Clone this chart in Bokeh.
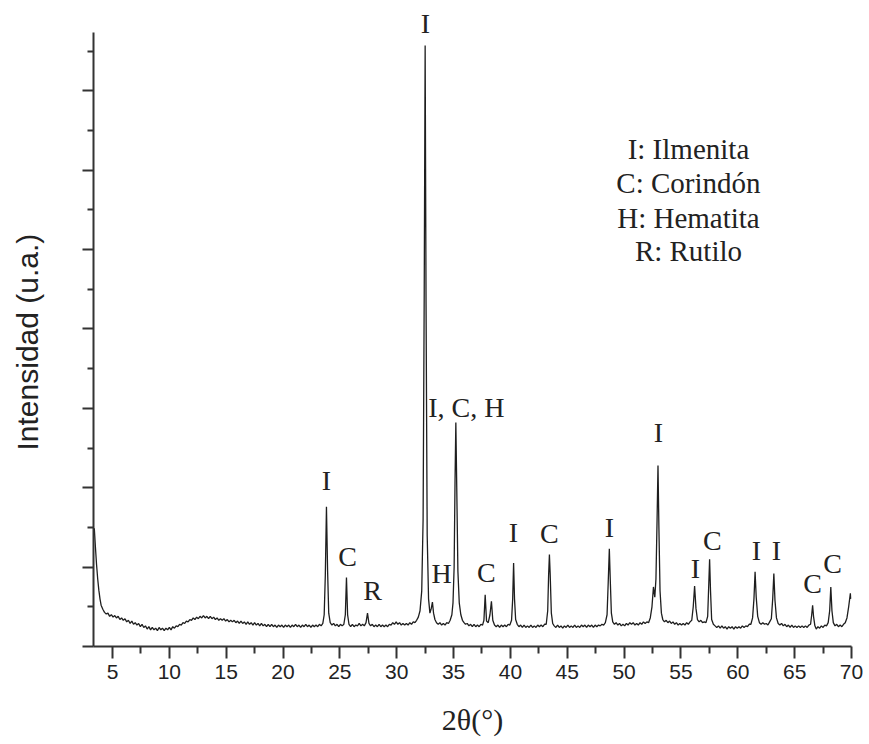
from bokeh.plotting import figure
from bokeh.models import (Range1d, FixedTicker, ColumnDataSource, LabelSet, CustomJSTickFormatter,
                          Title, LinearAxis)
from bokeh.core.properties import value
from bokeh.embed import file_html
from bokeh.resources import INLINE

# ---- data (2theta in degrees, intensity in arbitrary units) ----
two_theta = [
    3.40, 3.50, 3.60, 3.70, 3.80, 3.90, 4.00, 4.15, 4.30, 4.45, 4.60, 4.75, 4.90, 5.05, 5.20, 5.35,
    5.50, 5.65, 5.80, 5.95, 6.10, 6.25, 6.40, 6.55, 6.70, 6.85, 7.00, 7.15, 7.30, 7.45, 7.60, 7.75,
    7.90, 8.05, 8.20, 8.35, 8.50, 8.65, 8.80, 8.95, 9.10, 9.25, 9.40, 9.55, 9.70, 9.85, 10.00, 10.15,
    10.30, 10.45, 10.60, 10.75, 10.90, 11.05, 11.20, 11.35, 11.50, 11.65, 11.80, 11.95, 12.10, 12.25,
    12.40, 12.55, 12.70, 12.85, 13.00, 13.15, 13.30, 13.45, 13.60, 13.75, 13.90, 14.05, 14.20, 14.35,
    14.50, 14.65, 14.80, 14.95, 15.10, 15.25, 15.40, 15.55, 15.70, 15.85, 16.00, 16.15, 16.30, 16.45,
    16.60, 16.75, 16.90, 17.05, 17.20, 17.35, 17.50, 17.65, 17.80, 17.95, 18.10, 18.25, 18.40, 18.55,
    18.70, 18.85, 19.00, 19.15, 19.30, 19.45, 19.60, 19.75, 19.90, 20.05, 20.20, 20.35, 20.50, 20.65,
    20.80, 20.95, 21.10, 21.25, 21.40, 21.55, 21.70, 21.85, 22.00, 22.15, 22.30, 22.45, 22.60, 22.75,
    22.90, 23.05, 23.20, 23.35, 23.50, 23.62, 23.72, 23.82, 23.92, 24.02, 24.15, 24.30, 24.45, 24.60,
    24.75, 24.90, 25.05, 25.20, 25.35, 25.48, 25.58, 25.68, 25.80, 25.95, 26.10, 26.25, 26.40, 26.55,
    26.70, 26.85, 27.00, 27.15, 27.30, 27.43, 27.56, 27.70, 27.85, 28.00, 28.15, 28.30, 28.45, 28.60,
    28.75, 28.90, 29.05, 29.20, 29.35, 29.50, 29.65, 29.80, 29.95, 30.10, 30.25, 30.40, 30.55, 30.70,
    30.85, 31.00, 31.15, 31.30, 31.45, 31.60, 31.75, 31.90, 32.05, 32.20, 32.32, 32.42, 32.50, 32.58,
    32.68, 32.80, 32.92, 33.04, 33.14, 33.24, 33.36, 33.50, 33.65, 33.80, 33.95, 34.10, 34.25, 34.40,
    34.55, 34.70, 34.85, 34.95, 35.05, 35.13, 35.20, 35.28, 35.38, 35.50, 35.64, 35.78, 35.92, 36.05,
    36.20, 36.35, 36.50, 36.65, 36.80, 36.95, 37.10, 37.25, 37.40, 37.55, 37.67, 37.78, 37.90, 38.05,
    38.20, 38.33, 38.45, 38.60, 38.75, 38.90, 39.05, 39.20, 39.35, 39.50, 39.65, 39.80, 39.95, 40.10,
    40.20, 40.28, 40.36, 40.46, 40.60, 40.75, 40.90, 41.05, 41.20, 41.35, 41.50, 41.65, 41.80, 41.95,
    42.10, 42.25, 42.40, 42.55, 42.70, 42.85, 43.00, 43.15, 43.28, 43.36, 43.43, 43.50, 43.60, 43.72,
    43.85, 44.00, 44.15, 44.30, 44.45, 44.60, 44.75, 44.90, 45.05, 45.20, 45.35, 45.50, 45.65, 45.80,
    45.95, 46.10, 46.25, 46.40, 46.55, 46.70, 46.85, 47.00, 47.15, 47.30, 47.45, 47.60, 47.75, 47.90,
    48.05, 48.20, 48.35, 48.50, 48.60, 48.70, 48.78, 48.88, 49.00, 49.15, 49.30, 49.45, 49.60, 49.75,
    49.90, 50.05, 50.20, 50.35, 50.50, 50.65, 50.80, 50.95, 51.10, 51.25, 51.40, 51.55, 51.70, 51.85,
    52.00, 52.15, 52.30, 52.45, 52.58, 52.70, 52.80, 52.90, 52.98, 53.06, 53.16, 53.28, 53.40, 53.55,
    53.70, 53.85, 54.00, 54.15, 54.30, 54.45, 54.60, 54.75, 54.90, 55.05, 55.20, 55.35, 55.50, 55.65,
    55.80, 55.95, 56.08, 56.20, 56.32, 56.45, 56.60, 56.75, 56.90, 57.05, 57.20, 57.35, 57.45, 57.52,
    57.60, 57.70, 57.85, 58.00, 58.15, 58.30, 58.45, 58.60, 58.75, 58.90, 59.05, 59.20, 59.35, 59.50,
    59.65, 59.80, 59.95, 60.10, 60.25, 60.40, 60.55, 60.70, 60.85, 61.00, 61.15, 61.30, 61.42, 61.52,
    61.62, 61.75, 61.90, 62.05, 62.20, 62.35, 62.50, 62.65, 62.80, 62.95, 63.07, 63.17, 63.27, 63.40,
    63.55, 63.70, 63.85, 64.00, 64.15, 64.30, 64.45, 64.60, 64.75, 64.90, 65.05, 65.20, 65.35, 65.50,
    65.65, 65.80, 65.95, 66.10, 66.25, 66.40, 66.50, 66.58, 66.66, 66.78, 66.90, 67.05, 67.20, 67.35,
    67.50, 67.65, 67.80, 67.95, 68.08, 68.18, 68.28, 68.40, 68.55, 68.70, 68.85, 69.00, 69.15, 69.30,
    69.45, 69.60, 69.75, 69.90, 69.95,
]
intensity = [
    1.49, 1.25, 1.03, 0.85, 0.71, 0.60, 0.52, 0.47, 0.43, 0.41, 0.42, 0.38, 0.40, 0.37, 0.39, 0.36,
    0.38, 0.34, 0.36, 0.33, 0.35, 0.31, 0.33, 0.29, 0.32, 0.28, 0.30, 0.27, 0.29, 0.25, 0.28, 0.24,
    0.26, 0.22, 0.25, 0.21, 0.24, 0.21, 0.23, 0.20, 0.24, 0.21, 0.23, 0.20, 0.23, 0.21, 0.24, 0.21,
    0.25, 0.23, 0.26, 0.25, 0.28, 0.27, 0.30, 0.29, 0.32, 0.31, 0.34, 0.33, 0.36, 0.34,
    0.37, 0.35, 0.38, 0.36, 0.39, 0.36, 0.38, 0.35, 0.38, 0.35, 0.37, 0.34, 0.36, 0.33,
    0.35, 0.33, 0.35, 0.32, 0.34, 0.31, 0.33, 0.31, 0.33, 0.30, 0.32, 0.29, 0.32, 0.29,
    0.31, 0.28, 0.31, 0.28, 0.30, 0.27, 0.30, 0.27, 0.29, 0.26, 0.29, 0.26, 0.28, 0.25,
    0.28, 0.25, 0.28, 0.25, 0.27, 0.24, 0.27, 0.25, 0.27, 0.24, 0.27, 0.25, 0.27, 0.24,
    0.27, 0.25, 0.28, 0.25, 0.27, 0.24, 0.27, 0.25, 0.28, 0.25, 0.27, 0.24, 0.27, 0.25,
    0.27, 0.25, 0.28, 0.26, 0.29, 0.40, 0.90, 1.76, 0.95, 0.42, 0.30, 0.27, 0.29, 0.26,
    0.28, 0.25, 0.28, 0.26, 0.28, 0.40, 0.87, 0.40, 0.28, 0.25, 0.28, 0.25, 0.27, 0.26,
    0.29, 0.26, 0.28, 0.26, 0.30, 0.42, 0.29, 0.26, 0.28, 0.25, 0.27, 0.25, 0.28, 0.25,
    0.27, 0.25, 0.27, 0.25, 0.28, 0.27, 0.30, 0.28, 0.31, 0.28, 0.30, 0.27, 0.29, 0.27,
    0.29, 0.27, 0.30, 0.28, 0.31, 0.30, 0.33, 0.37, 0.45, 0.70, 1.60, 4.50, 7.57, 4.30,
    1.40, 0.60, 0.42, 0.48, 0.56, 0.42, 0.34, 0.30, 0.28, 0.30, 0.27, 0.29, 0.27, 0.30,
    0.29, 0.33, 0.40, 0.55, 1.00, 2.10, 2.82, 2.00, 0.95, 0.55, 0.40, 0.33, 0.30, 0.28,
    0.29, 0.26, 0.28, 0.25, 0.28, 0.25, 0.27, 0.25, 0.28, 0.27, 0.33, 0.65, 0.32, 0.30,
    0.40, 0.57, 0.33, 0.27, 0.25, 0.27, 0.24, 0.27, 0.25, 0.27, 0.25, 0.28, 0.27, 0.33,
    0.60, 1.05, 0.60, 0.34, 0.28, 0.25, 0.27, 0.24, 0.27, 0.24, 0.26, 0.24, 0.27, 0.24,
    0.26, 0.24, 0.27, 0.25, 0.27, 0.25, 0.28, 0.28, 0.45, 0.90, 1.16, 0.90, 0.42, 0.29,
    0.26, 0.24, 0.27, 0.24, 0.26, 0.23, 0.26, 0.24, 0.27, 0.24, 0.26, 0.24, 0.27, 0.24,
    0.26, 0.24, 0.27, 0.25, 0.27, 0.24, 0.27, 0.25, 0.27, 0.24, 0.27, 0.25, 0.27, 0.26,
    0.28, 0.27, 0.30, 0.40, 0.80, 1.23, 0.85, 0.42, 0.31, 0.28, 0.30, 0.27, 0.29, 0.26,
    0.28, 0.26, 0.29, 0.27, 0.30, 0.28, 0.30, 0.27, 0.29, 0.27, 0.30, 0.28, 0.31, 0.29,
    0.31, 0.30, 0.36, 0.50, 0.75, 0.62, 0.85, 1.60, 2.28, 1.50, 0.70, 0.42, 0.34, 0.31,
    0.33, 0.30, 0.32, 0.29, 0.31, 0.28, 0.30, 0.27, 0.29, 0.27, 0.29, 0.27, 0.30, 0.28,
    0.31, 0.33, 0.50, 0.76, 0.48, 0.34, 0.31, 0.33, 0.30, 0.31, 0.30, 0.38, 0.80, 1.10,
    0.70, 0.34, 0.28, 0.26, 0.24, 0.26, 0.23, 0.26, 0.23, 0.25, 0.22, 0.25, 0.23, 0.25,
    0.22, 0.25, 0.23, 0.25, 0.23, 0.26, 0.24, 0.26, 0.25, 0.28, 0.28, 0.36, 0.60, 0.94,
    0.62, 0.38, 0.30, 0.28, 0.30, 0.28, 0.29, 0.27, 0.31, 0.35, 0.60, 0.92, 0.58, 0.36,
    0.29, 0.27, 0.29, 0.26, 0.28, 0.25, 0.27, 0.24, 0.27, 0.24, 0.26, 0.24, 0.26, 0.24,
    0.26, 0.24, 0.26, 0.24, 0.27, 0.28, 0.40, 0.52, 0.38, 0.26, 0.22, 0.25, 0.23, 0.26,
    0.24, 0.27, 0.26, 0.30, 0.45, 0.75, 0.45, 0.30, 0.26, 0.28, 0.25, 0.27, 0.25, 0.28,
    0.30, 0.36, 0.50, 0.67, 0.60,
]

peak_labels = ["I", "C", "R", "I", "H", "I, C, H", "C", "I", "C", "I",
               "I", "I", "C", "I", "I", "C", "C"]
peak_label_x = [23.82, 25.67, 27.87, 32.53, 33.94, 36.13, 37.89, 40.27, 43.43, 48.71,
                53.02, 56.27, 57.77, 61.64, 63.40, 66.57, 68.33]
peak_label_y = [1.97, 1.02, 0.58, 7.73, 0.80, 2.89, 0.81, 1.32, 1.30, 1.38,
                2.58, 0.86, 1.21, 1.09, 1.09, 0.67, 0.92]

legend_lines = ["I: Ilmenita", "C: Corindón", "H: Hematita", "R: Rutilo"]
legend_x = [55.66, 55.66, 55.66, 55.66]
legend_y = [6.14, 5.71, 5.27, 4.85]

x_major = [5, 10, 15, 20, 25, 30, 35, 40, 45, 50, 55, 60, 65, 70]
x_minor = [7.5, 12.5, 17.5, 22.5, 27.5, 32.5, 37.5, 42.5, 47.5, 52.5, 57.5, 62.5, 67.5]
y_major = [0, 1, 2, 3, 4, 5, 6, 7]
y_minor = [0.5, 1.5, 2.5, 3.5, 4.5, 5.5, 6.5, 7.5]
y_axis_top = 7.73

# ---- figure ----
p = figure(width=867, height=742, output_backend="svg", toolbar_location=None,
           x_range=Range1d(3.33, 70.0), y_range=Range1d(0, 8.086),
           min_border_left=93, min_border_right=16, min_border_top=4, min_border_bottom=96)
p.outline_line_color = None
p.xgrid.visible = False
p.ygrid.visible = False
p.background_fill_color = "white"
p.border_fill_color = "white"

axis_col = "#333333"
text_col = "#222222"

xa = p.xaxis[0]
xa.ticker = FixedTicker(ticks=x_major, minor_ticks=x_minor)
xa.axis_line_color = axis_col
xa.axis_line_width = 2
xa.major_tick_line_color = axis_col
xa.major_tick_line_width = 2
xa.minor_tick_line_color = axis_col
xa.minor_tick_line_width = 2
xa.major_tick_out = 12
xa.major_tick_in = 0
xa.minor_tick_out = 7
xa.minor_tick_in = 0
xa.major_label_text_font = "Liberation Sans"
xa.major_label_text_font_size = "21px"
xa.major_label_text_color = text_col
xa.major_label_standoff = 6
xa.axis_label = "2θ(°)"
xa.axis_label_text_font = "Liberation Serif"
xa.axis_label_text_font_size = "30px"
xa.axis_label_text_font_style = "normal"
xa.axis_label_text_color = text_col
xa.axis_label_standoff = 21

ya = p.yaxis[0]
ya.ticker = FixedTicker(ticks=y_major, minor_ticks=y_minor)
ya.bounds = (0, y_axis_top)
ya.formatter = CustomJSTickFormatter(code="return ''")
ya.axis_line_color = axis_col
ya.axis_line_width = 2
ya.major_tick_line_color = axis_col
ya.major_tick_line_width = 2
ya.minor_tick_line_color = axis_col
ya.minor_tick_line_width = 2
ya.major_tick_out = 11
ya.major_tick_in = 0
ya.minor_tick_out = 6
ya.minor_tick_in = 0
ya.major_label_standoff = 0

# blank spacer axis: reserves room between the y axis and its title
spacer = LinearAxis(ticker=FixedTicker(ticks=y_major, minor_ticks=[]),
                    formatter=CustomJSTickFormatter(code="return ''"),
                    axis_line_color=None, major_tick_line_color=None, minor_tick_line_color=None,
                    major_tick_out=39, major_tick_in=0, minor_tick_out=0, minor_tick_in=0,
                    major_label_standoff=0)
p.add_layout(spacer, "left")

ytitle = Title(text="Intensidad (u.a.)", align="left", vertical_align="bottom",
               offset=196, standoff=0,
               text_font="Liberation Sans", text_font_size="30px",
               text_font_style="normal", text_color=text_col)
p.add_layout(ytitle, "left")

src = ColumnDataSource(dict(x=two_theta, y=intensity))
p.line("x", "y", source=src, line_color="#1e1e1e", line_width=1.3)

lab = ColumnDataSource(dict(x=peak_label_x, y=peak_label_y, t=peak_labels))
p.add_layout(LabelSet(x="x", y="y", text="t", source=lab,
                      text_font=value("Liberation Serif"), text_font_size=value("28px"),
                      text_align="center", text_baseline="alphabetic", text_color=text_col))

leg = ColumnDataSource(dict(x=legend_x, y=legend_y, t=legend_lines))
p.add_layout(LabelSet(x="x", y="y", text="t", source=leg,
                      text_font=value("Liberation Serif"), text_font_size=value("29px"),
                      text_align="center", text_baseline="alphabetic", text_color=text_col))

open("out.html", "w").write(file_html(p, INLINE))
